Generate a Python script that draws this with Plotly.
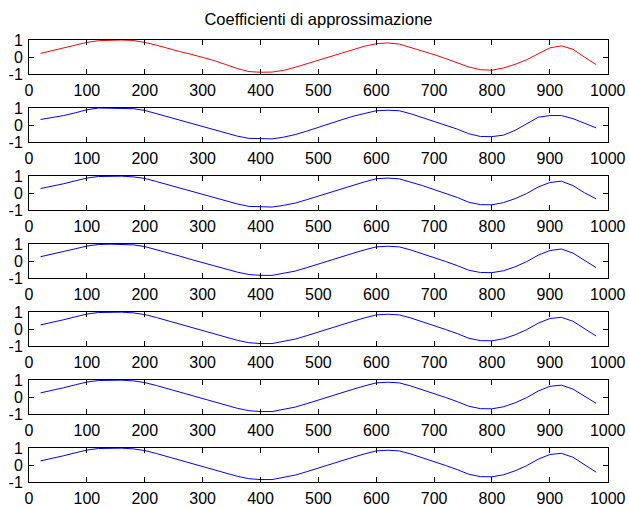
import plotly.graph_objects as go

TITLE = "Coefficienti di approssimazione"
X_SAMPLES = list(range(20, 1000, 20))
X_TICKS = [0, 100, 200, 300, 400, 500, 600, 700, 800, 900, 1000]
Y_TICKS = [-1, 0, 1]

row1 = [0.22, 0.39, 0.56, 0.71, 0.86, 0.96, 1.00, 1.00, 0.97, 0.86, 0.70, 0.50, 0.33, 0.17, -0.01,
        -0.20, -0.43, -0.66, -0.84, -0.88, -0.87, -0.77, -0.59, -0.38, -0.17, 0.04, 0.26, 0.45, 0.64,
        0.78, 0.83, 0.76, 0.57, 0.36, 0.15, -0.08, -0.32, -0.57, -0.73, -0.76, -0.63, -0.42, -0.15,
        0.22, 0.54, 0.66, 0.46, 0.00, -0.43]
row2 = [0.33, 0.44, 0.56, 0.72, 0.90, 1.00, 1.00, 1.00, 0.96, 0.86, 0.67, 0.48, 0.29, 0.10, -0.10,
        -0.28, -0.46, -0.64, -0.77, -0.80, -0.80, -0.70, -0.55, -0.35, -0.12, 0.10, 0.31, 0.52, 0.70,
        0.84, 0.87, 0.84, 0.66, 0.44, 0.21, 0.00, -0.23, -0.50, -0.66, -0.67, -0.58, -0.30, 0.08,
        0.46, 0.56, 0.56, 0.38, 0.12, -0.16]
row3 = [0.27, 0.40, 0.55, 0.72, 0.88, 0.97, 0.99, 0.99, 0.95, 0.86, 0.68, 0.49, 0.30, 0.11, -0.08,
        -0.28, -0.46, -0.63, -0.77, -0.81, -0.81, -0.71, -0.58, -0.38, -0.17, 0.05, 0.25, 0.45, 0.66,
        0.84, 0.88, 0.83, 0.65, 0.44, 0.21, -0.02, -0.25, -0.53, -0.67, -0.68, -0.55, -0.32, -0.02,
        0.36, 0.62, 0.70, 0.44, 0.02, -0.33]
row4 = [0.26, 0.40, 0.55, 0.72, 0.88, 0.97, 0.99, 0.99, 0.95, 0.85, 0.68, 0.49, 0.30, 0.10, -0.09,
        -0.29, -0.47, -0.64, -0.78, -0.83, -0.83, -0.72, -0.58, -0.38, -0.16, 0.06, 0.26, 0.46, 0.66,
        0.83, 0.87, 0.83, 0.65, 0.44, 0.21, -0.02, -0.26, -0.53, -0.66, -0.67, -0.56, -0.33, -0.03,
        0.35, 0.62, 0.71, 0.47, 0.04, -0.38]
row5 = [0.25, 0.39, 0.55, 0.72, 0.88, 0.97, 0.99, 0.99, 0.95, 0.85, 0.68, 0.49, 0.30, 0.10, -0.09,
        -0.29, -0.47, -0.65, -0.79, -0.84, -0.84, -0.73, -0.58, -0.38, -0.16, 0.06, 0.26, 0.46, 0.66,
        0.83, 0.87, 0.83, 0.65, 0.44, 0.21, -0.02, -0.26, -0.53, -0.67, -0.68, -0.56, -0.33, -0.03,
        0.35, 0.62, 0.69, 0.46, 0.02, -0.40]
row6 = [0.25, 0.39, 0.55, 0.72, 0.88, 0.97, 0.99, 0.99, 0.95, 0.85, 0.68, 0.49, 0.30, 0.10, -0.09,
        -0.29, -0.47, -0.65, -0.79, -0.84, -0.84, -0.73, -0.58, -0.38, -0.16, 0.06, 0.26, 0.46, 0.66,
        0.83, 0.87, 0.83, 0.65, 0.44, 0.21, -0.02, -0.26, -0.53, -0.67, -0.68, -0.56, -0.33, -0.03,
        0.36, 0.63, 0.70, 0.47, 0.04, -0.36]
row7 = [0.25, 0.39, 0.55, 0.72, 0.88, 0.97, 0.99, 0.99, 0.95, 0.85, 0.68, 0.49, 0.30, 0.10, -0.09,
        -0.29, -0.47, -0.65, -0.79, -0.84, -0.84, -0.73, -0.58, -0.38, -0.16, 0.06, 0.26, 0.46, 0.66,
        0.83, 0.87, 0.83, 0.65, 0.44, 0.21, -0.02, -0.26, -0.53, -0.67, -0.68, -0.56, -0.33, -0.03,
        0.35, 0.62, 0.69, 0.46, 0.02, -0.41]

SERIES = [row1, row2, row3, row4, row5, row6, row7]
COLORS = ["#ff0000"] + ["#0000ff"] * 6

W, H = 629, 506
LEFT, RIGHT = 29, 607.7
TOP0, PITCH, AX_H = 40, 68, 34.3
FAMILY = "Liberation Sans, Arial, sans-serif"

fig = go.Figure()
layout = dict(
    width=W, height=H,
    margin=dict(l=0, r=0, t=0, b=0, autoexpand=False),
    paper_bgcolor="white", plot_bgcolor="white",
    showlegend=False,
    font=dict(family=FAMILY, color="black", size=16),
    title=dict(text=TITLE, x=318.5 / W, xanchor="center", y=1 - 19 / H, yanchor="middle",
               yref="container", xref="paper", automargin=False,
               font=dict(size=16.5, color="black", family=FAMILY)),
)

for i, (vals, col) in enumerate(zip(SERIES, COLORS)):
    n = i + 1
    xa = "x" if n == 1 else f"x{n}"
    ya = "y" if n == 1 else f"y{n}"
    fig.add_trace(go.Scatter(x=X_SAMPLES, y=vals, mode="lines", line=dict(color=col, width=1),
                             xaxis=xa, yaxis=ya, hoverinfo="skip"))
    top = TOP0 + PITCH * i
    bot = top + AX_H
    axis_common = dict(showline=True, linecolor="black", linewidth=1, mirror="ticks",
                       ticks="inside", ticklen=5, tickcolor="black", tickwidth=1,
                       showgrid=False, zeroline=False, fixedrange=True, automargin=False,
                       tickfont=dict(size=16, color="black", family=FAMILY))
    layout["xaxis" if n == 1 else f"xaxis{n}"] = dict(
        axis_common, domain=[LEFT / W, RIGHT / W], range=[0, 1000],
        tickvals=X_TICKS, ticktext=[str(t) for t in X_TICKS], anchor=ya,
        ticklabelstandoff=1)
    layout["yaxis" if n == 1 else f"yaxis{n}"] = dict(
        axis_common, domain=[1 - bot / H, 1 - top / H], range=[-1, 1],
        tickvals=Y_TICKS, ticktext=[str(t) for t in Y_TICKS], anchor=xa,
        ticklabelstandoff=2)

fig.update_layout(**layout)
fig.write_html("out.html", config={"displayModeBar": False},
               post_script="document.body.style.margin='0';")
